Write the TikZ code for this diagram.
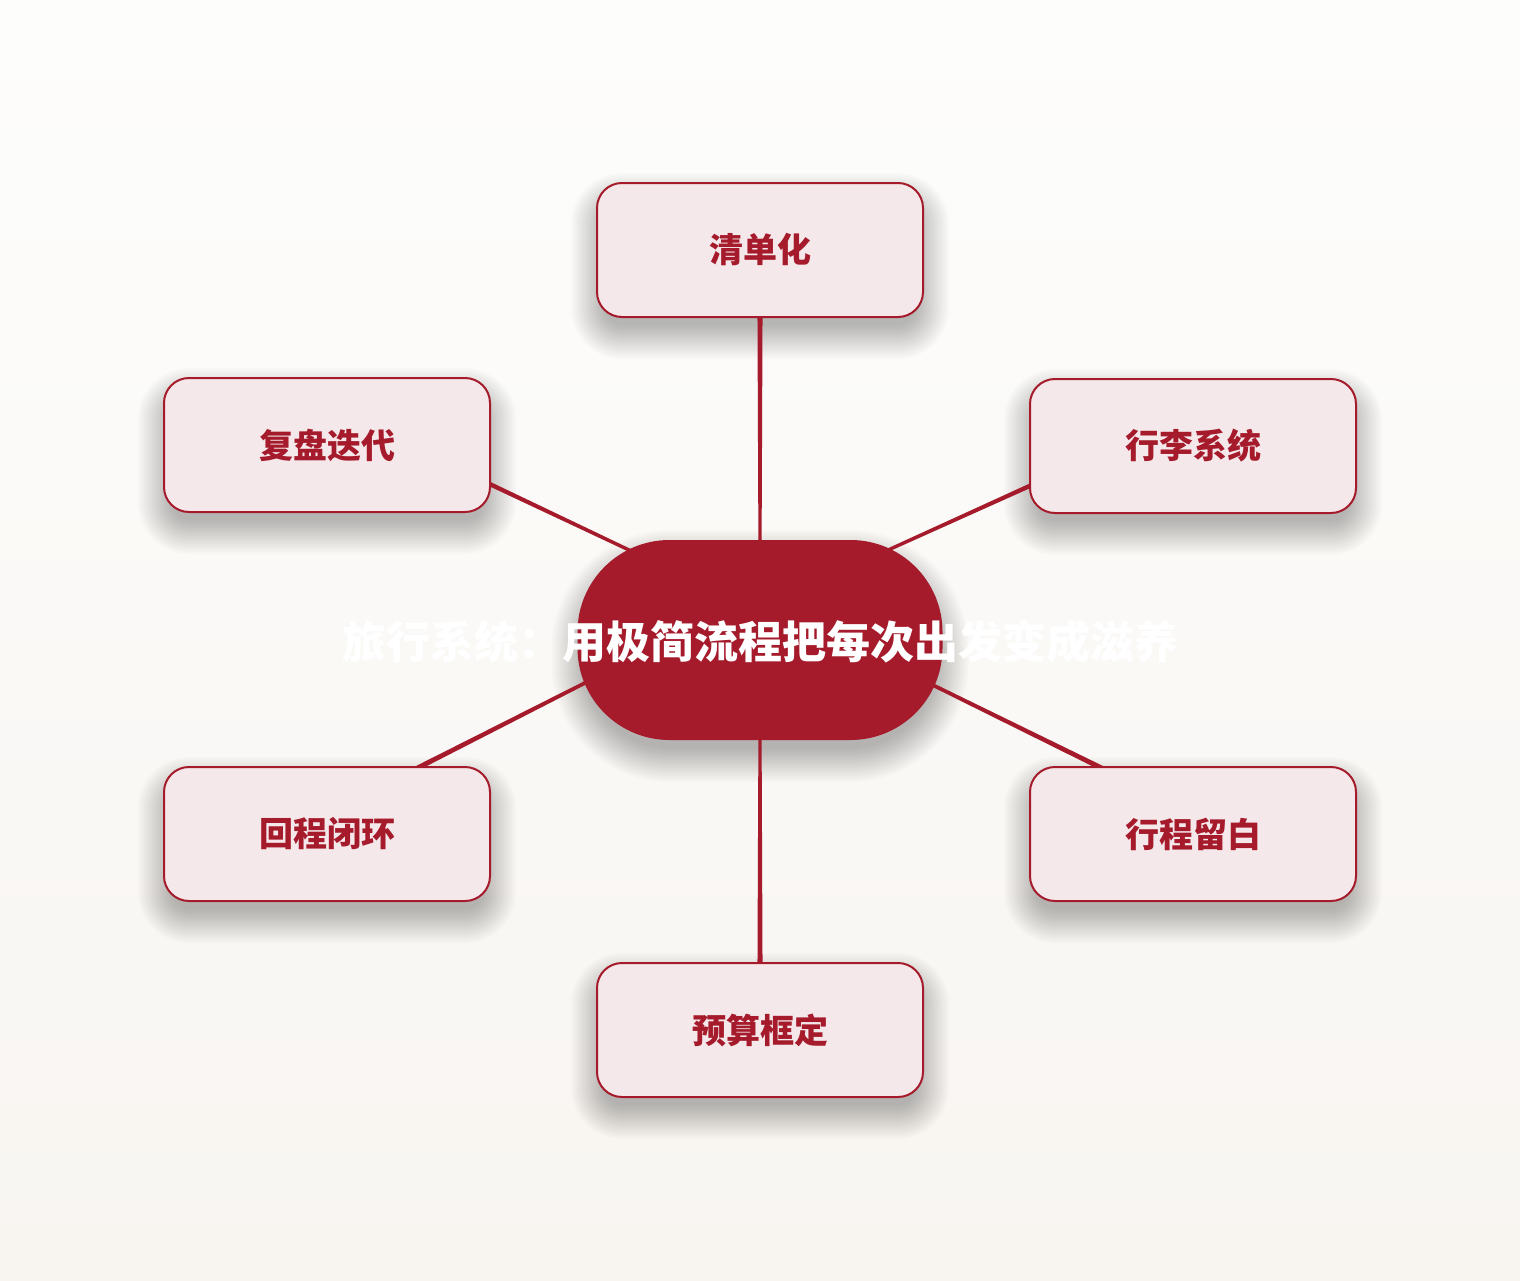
\documentclass[tikz,border=0pt]{standalone}
\usepackage{fontspec}
\setmainfont{Noto Sans CJK SC}
\usetikzlibrary{calc}
\definecolor{mainred}{HTML}{A51B2B}
\definecolor{boxfill}{HTML}{F5E8EB}
\definecolor{bgtop}{HTML}{FDFDFC}
\definecolor{bgbot}{HTML}{F8F5F1}
\newcommand\taperline[2]{%
  \fill[mainred] ($(#1)!1.2pt!90:(#2)$) -- ($(#2)!2.8pt!-90:(#1)$) -- ($(#2)!2.8pt!90:(#1)$) -- ($(#1)!1.2pt!-90:(#2)$) -- cycle;}
% soft shadow: centre x, centre y, width, height, corner radius
\newcommand\softshade[5]{%
  \foreach \i in {0,...,17}{%
    \pgfmathsetmacro\s{2*\i-8}%
    \pgfmathsetmacro\rr{#5+\s}%
    \fill[black, opacity=0.014, rounded corners=\rr pt]
      ({#1-#3/2-\s},{#2-#4/2-\s+16}) rectangle ({#1+#3/2+\s},{#2+#4/2+\s+16});
  }}
\tikzset{
  satbox/.style={rectangle, draw=mainred, line width=2pt, fill=boxfill, rounded corners=25pt,
    minimum width=326pt, minimum height=134pt, inner sep=0pt, text=mainred,
    font=\fontsize{34pt}{40pt}\selectfont\bfseries},
  hub/.style={rectangle, fill=mainred, rounded corners=92pt, minimum width=365pt, minimum height=200pt,
    inner sep=0pt},
  hubtext/.style={text=white, inner sep=0pt, font=\fontsize{44pt}{50pt}\selectfont\bfseries}
}
\begin{document}
\begin{tikzpicture}[x=1pt,y=-1pt]
\shade[top color=bgtop, bottom color=bgbot] (0,0) rectangle (1520,1280);
\useasboundingbox (0,0) rectangle (1520,1280);
% shadows
\softshade{760}{640}{365}{200}{92}
\softshade{760}{250}{326}{134}{25}
\softshade{327}{445}{326}{134}{25}
\softshade{1193}{446}{326}{134}{25}
\softshade{327}{834}{326}{134}{25}
\softshade{1193}{834}{326}{134}{25}
\softshade{760}{1030}{326}{134}{25}
% anchor points for connectors
\coordinate (hc) at (760,640);
\coordinate (hul) at (760,612);
\coordinate (hur) at (760,608);
\coordinate (hll) at (760,594);
\coordinate (hlr) at (760,600);
\coordinate (pt) at (760,250);
\coordinate (pb) at (760,1030);
\coordinate (pul) at (327,407);
\coordinate (pur) at (1193,412);
\coordinate (pll) at (327,814);
\coordinate (plr) at (1193,813);
% connectors
\taperline{hc}{pt}
\taperline{hc}{pb}
\taperline{hul}{pul}
\taperline{hur}{pur}
\taperline{hll}{pll}
\taperline{hlr}{plr}
% nodes
\node[hub] (c) at (hc) {};
\node[satbox] (t) at (760,250) {清单化};
\node[satbox] (ul) at (327,445) {复盘迭代};
\node[satbox] (ur) at (1193,446) {行李系统};
\node[satbox] (ll) at (327,834) {回程闭环};
\node[satbox] (lr) at (1193,834) {行程留白};
\node[satbox] (b) at (760,1030) {预算框定};
\node[hubtext] (ct) at (760,642) {旅行系统：用极简流程把每次出发变成滋养};
\end{tikzpicture}
\end{document}
